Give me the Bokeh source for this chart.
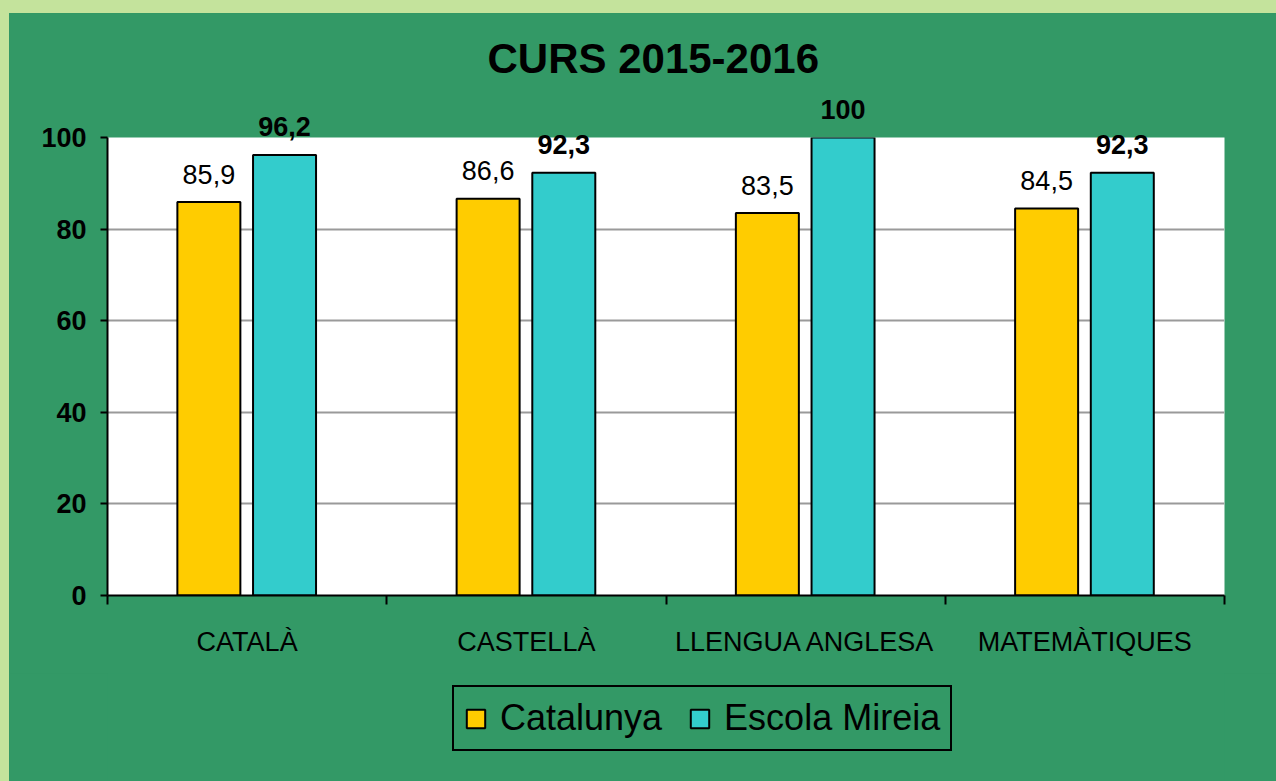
from bokeh.plotting import figure
from bokeh.layouts import column
from bokeh.models import (ColumnDataSource, FixedTicker, Range1d, Legend, LegendItem, Title)
from bokeh.transform import dodge
from bokeh.core.properties import value
from bokeh.embed import file_html
from bokeh.resources import INLINE

# ---- data ----
categories = ["CATALÀ", "CASTELLÀ", "LLENGUA ANGLESA", "MATEMÀTIQUES"]
catalunya = [85.9, 86.6, 83.5, 84.5]
escola = [96.2, 92.3, 100, 92.3]
series_names = ["Catalunya", "Escola Mireia"]
y_ticks = [0, 20, 40, 60, 80, 100]
title_text = "CURS 2015-2016"

def fmt(v):
    s = ("%.1f" % v).rstrip("0").rstrip(".")
    return s.replace(".", ",")

centers = [i + 0.5 for i in range(len(categories))]
src = ColumnDataSource(dict(
    x=centers,
    cat=catalunya,
    esc=escola,
    cat_lbl=[fmt(v) for v in catalunya],
    esc_lbl=[fmt(v) for v in escola],
))

DARK = "#339966"
LIGHT = "#c4e39c"
YEL = "#ffcc00"
CYA = "#33cccc"
FONT = "Liberation Sans"
OFF1, OFF2, BW = -0.137, 0.134, 0.2256

p = figure(width=1267, height=660, output_backend="svg", toolbar_location=None,
           x_range=Range1d(0, len(categories)), y_range=Range1d(0, 100),
           min_border_left=98, min_border_right=52, min_border_top=124, min_border_bottom=78)
p.border_fill_color = DARK
p.background_fill_color = "white"
p.outline_line_color = None

# spacer panel between frame and title
p.add_layout(Title(text=" ", text_font_size="1px", standoff=30), "above")

p.title.text = title_text
p.title.align = "left"
p.title.offset = 380
p.title.vertical_align = "top"
p.title.text_font = FONT
p.title.text_font_size = "42px"
p.title.text_font_style = "bold"
p.title.text_color = "black"
p.title.standoff = 42

r1 = p.vbar(x=dodge("x", OFF1, range=p.x_range), top="cat", width=BW, source=src,
            fill_color=YEL, line_color="black", line_width=2)
r2 = p.vbar(x=dodge("x", OFF2, range=p.x_range), top="esc", width=BW, source=src,
            fill_color=CYA, line_color="black", line_width=2)

p.text(x=dodge("x", OFF1, range=p.x_range), y="cat", text="cat_lbl", source=src,
       text_font=value(FONT), text_font_size="27px", text_align="center",
       text_baseline="alphabetic", y_offset=-28, text_color="black", level="overlay")
p.text(x=dodge("x", OFF2, range=p.x_range), y="esc", text="esc_lbl", source=src,
       text_font=value(FONT), text_font_size="27px", text_font_style="bold", text_align="center",
       text_baseline="alphabetic", y_offset=-28, text_color="black", level="overlay")

# y axis
ya = p.yaxis[0]
ya.ticker = FixedTicker(ticks=y_ticks)
ya.axis_line_width = 2
ya.axis_line_color = "black"
ya.major_tick_out = 7
ya.major_tick_in = 0
ya.major_tick_line_width = 2
ya.minor_tick_line_color = None
ya.major_label_text_font = FONT
ya.major_label_text_font_size = "27px"
ya.major_label_text_font_style = "bold"
ya.major_label_text_color = "black"
ya.major_label_standoff = 14

# x axis
xa = p.xaxis[0]
xa.ticker = FixedTicker(ticks=centers, minor_ticks=list(range(len(categories) + 1)))
xa.major_label_overrides = {c: name for c, name in zip(centers, categories)}
xa.axis_line_width = 2
xa.axis_line_color = "black"
xa.major_tick_out = 0
xa.major_tick_in = 0
xa.major_tick_line_color = None
xa.minor_tick_out = 9
xa.minor_tick_in = 0
xa.minor_tick_line_width = 2
xa.minor_tick_line_color = "black"
xa.major_label_text_font = FONT
xa.major_label_text_font_size = "27px"
xa.major_label_text_color = "black"
xa.major_label_standoff = 22

p.xgrid.grid_line_color = None
p.ygrid.ticker = FixedTicker(ticks=[20, 40, 60, 80])
p.ygrid.grid_line_color = "#9a9a9a"
p.ygrid.grid_line_width = 2

# ---- legend strip below the chart ----
p2 = figure(width=1267, height=108, output_backend="svg", toolbar_location=None,
            x_range=Range1d(0, len(categories)), y_range=Range1d(0, 100),
            x_axis_type=None, y_axis_type=None,
            min_border_left=0, min_border_right=0, min_border_top=0, min_border_bottom=0)
p2.border_fill_color = DARK
p2.background_fill_color = DARK
p2.outline_line_color = None
p2.xgrid.visible = False
p2.ygrid.visible = False
k1 = p2.vbar(x=dodge("x", OFF1, range=p2.x_range), top="cat", width=BW, source=src,
             fill_color=YEL, line_color="black", line_width=2, visible=False)
k2 = p2.vbar(x=dodge("x", OFF2, range=p2.x_range), top="esc", width=BW, source=src,
             fill_color=CYA, line_color="black", line_width=2, visible=False)

legend = Legend(items=[LegendItem(label=series_names[0], renderers=[k1]),
                       LegendItem(label=series_names[1], renderers=[k2])],
                orientation="horizontal", location=(345, 30))
legend.label_text_font = FONT
legend.label_text_font_size = "36px"
legend.label_text_color = "black"
legend.glyph_width = 23
legend.glyph_height = 23
legend.label_standoff = 13
legend.spacing = 26
legend.padding = 10
legend.margin = 0
legend.border_line_color = "black"
legend.border_line_width = 2
legend.border_line_alpha = 1
legend.background_fill_color = DARK
legend.background_fill_alpha = 1
legend.inactive_fill_alpha = 0
p2.add_layout(legend, "center")

layout = column(p, p2, spacing=0)
layout.styles = {"margin-top": "13px", "margin-left": "9px",
                 "background-color": DARK,
                 "box-shadow": f"0 0 0 13px {LIGHT}"}

open("out.html", "w").write(file_html(layout, INLINE))
